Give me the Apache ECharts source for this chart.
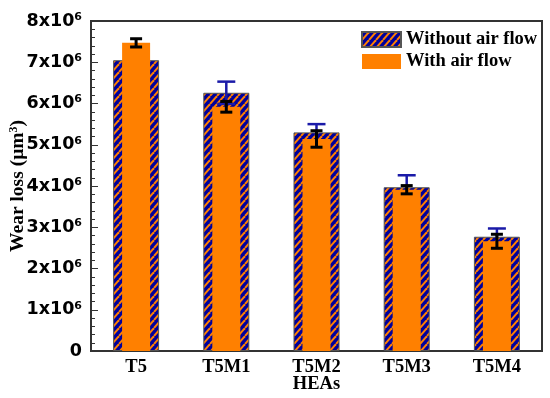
<!DOCTYPE html>
<html>
<head>
<meta charset="utf-8">
<script src="https://cdn.jsdelivr.net/npm/echarts@6/dist/echarts.min.js"></script>
<style>html,body{margin:0;padding:0;background:#fff}#c{width:550px;height:398px}</style>
</head>
<body>
<div id="c"></div>
<script>
const categories = ['T5', 'T5M1', 'T5M2', 'T5M3', 'T5M4'];
const withoutAir = [7.05e6, 6.26e6, 5.30e6, 3.97e6, 2.77e6];
const withoutAirErr = [0.15e6, 0.27e6, 0.20e6, 0.29e6, 0.20e6];
const withAir = [7.47e6, 5.92e6, 5.14e6, 3.91e6, 2.66e6];
const withAirErr = [0.10e6, 0.13e6, 0.20e6, 0.10e6, 0.17e6];
const seriesNames = ['Without air flow', 'With air flow'];
const xName = 'HEAs';

const BLUE = '#00009C';
const ORANGE = '#FF8000';

function hatch() {
  const w = 7, h = 8;
  const c = document.createElement('canvas');
  c.width = w; c.height = h;
  const ctx = c.getContext('2d');
  ctx.fillStyle = BLUE;
  ctx.fillRect(0, 0, w, h);
  ctx.strokeStyle = ORANGE;
  ctx.lineWidth = 2;
  for (let k = -1; k <= 1; k++) {
    ctx.beginPath();
    ctx.moveTo(k * w, h);
    ctx.lineTo(k * w + w, 0);
    ctx.stroke();
  }
  return c;
}

function errRender(color, capW, lw) {
  return function (params, api) {
    const x = api.value(0);
    const lo = api.coord([x, api.value(1)]);
    const hi = api.coord([x, api.value(2)]);
    const st = { stroke: color, lineWidth: lw };
    return {
      type: 'group',
      children: [
        { type: 'line', shape: { x1: lo[0], y1: lo[1], x2: hi[0], y2: hi[1] }, style: st },
        { type: 'line', shape: { x1: hi[0] - capW / 2, y1: hi[1], x2: hi[0] + capW / 2, y2: hi[1] }, style: st },
        { type: 'line', shape: { x1: lo[0] - capW / 2, y1: lo[1], x2: lo[0] + capW / 2, y2: lo[1] }, style: st }
      ]
    };
  };
}

const chart = echarts.init(document.getElementById('c'), null, { renderer: 'canvas' });
const serif = '"Liberation Serif", "Times New Roman", serif';
const sans = '"DejaVu Sans", Verdana, sans-serif';

chart.setOption({
  animation: false,
  backgroundColor: '#fff',
  grid: { left: 91, right: 8, top: 21, bottom: 47, containLabel: false, outerBoundsMode: 'none', show: true, borderColor: '#333', borderWidth: 2, backgroundColor: 'transparent' },
  legend: {
    data: seriesNames,
    orient: 'vertical',
    left: 356, top: 25,
    itemWidth: 39, itemHeight: 15, itemGap: 3,
    icon: 'rect',
    textStyle: { fontFamily: serif, fontWeight: 'bold', fontSize: 18.5, color: '#000' }
  },
  xAxis: [{
    type: 'category',
    data: categories,
    name: xName,
    nameLocation: 'middle',
    nameGap: 24,
    nameMoveOverlap: false,
    nameTextStyle: { fontFamily: serif, fontWeight: 'bold', fontSize: 18.5, color: '#000' },
    axisLine: { lineStyle: { color: '#333', width: 2 } },
    axisTick: { inside: true, alignWithLabel: true, length: 6, lineStyle: { color: '#333', width: 1 } },
    axisLabel: { fontFamily: serif, fontWeight: 'bold', fontSize: 18.5, color: '#000', margin: 7 }
  }, {
    type: 'category',
    data: categories,
    show: false,
    position: 'bottom'
  }],
  yAxis: {
    type: 'value',
    min: 0, max: 8e6, interval: 1e6,
    name: '{a|Wear loss (μm}{s|3}{a|)}',
    nameLocation: 'middle',
    nameGap: 63,
    nameMoveOverlap: false,
    nameTextStyle: {
      rich: {
        a: { fontFamily: serif, fontWeight: 'bold', fontSize: 19.5, color: '#000' },
        s: { fontFamily: serif, fontWeight: 'bold', fontSize: 12, color: '#000', verticalAlign: 'top', padding: [0, 0, 8, 0] }
      }
    },
    splitLine: { show: false },
    axisLine: { show: true, lineStyle: { color: '#333', width: 2 } },
    axisTick: { show: true, inside: true, length: 7, lineStyle: { color: '#333', width: 1 } },
    minorTick: { show: true, splitNumber: 5, length: 4, lineStyle: { color: '#333', width: 1 } },
    axisLabel: {
      margin: 9,
      formatter: function (v) {
        if (v === 0) return '{a|0}';
        return '{a|' + Math.round(v / 1e6) + 'x10}{s|6}';
      },
      rich: {
        a: { fontFamily: sans, fontWeight: 'bold', fontSize: 17.5, color: '#000' },
        s: { fontFamily: sans, fontWeight: 'bold', fontSize: 11, color: '#000', verticalAlign: 'top', padding: [0, 0, 8, 0] }
      }
    }
  },
  series: [{
    name: seriesNames[0],
    type: 'bar',
    xAxisIndex: 0,
    data: withoutAir,
    barWidth: 46,
    z: 2,
    itemStyle: { color: { image: hatch(), repeat: 'repeat' }, borderColor: '#555', borderWidth: 1 }
  }, {
    name: 'errWithout',
    type: 'custom',
    xAxisIndex: 0,
    z: 3,
    data: categories.map((c, i) => [i, withoutAir[i] - withoutAirErr[i], withoutAir[i] + withoutAirErr[i]]),
    renderItem: errRender('#1a1aa8', 18, 2.5)
  }, {
    name: seriesNames[1],
    type: 'bar',
    xAxisIndex: 1,
    data: withAir,
    barWidth: 28,
    z: 4,
    itemStyle: { color: ORANGE }
  }, {
    name: 'errWith',
    type: 'custom',
    xAxisIndex: 0,
    z: 5,
    data: categories.map((c, i) => [i, withAir[i] - withAirErr[i], withAir[i] + withAirErr[i]]),
    renderItem: errRender('#000', 12, 3)
  }]
});
</script>
</body>
</html>
